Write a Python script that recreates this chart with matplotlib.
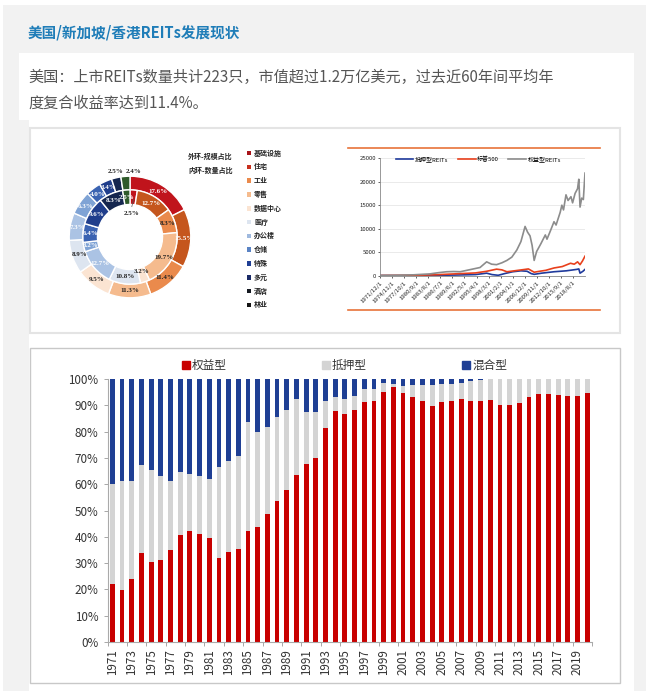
import matplotlib
matplotlib.use("Agg")
import matplotlib.pyplot as plt
from matplotlib.patches import Rectangle
from matplotlib.lines import Line2D
import numpy as np

W, H = 649, 691
CJK = ["Noto Sans CJK SC", "DejaVu Sans"]
plt.rcParams["font.family"] = CJK
plt.rcParams["axes.unicode_minus"] = False

# ---------------- data ----------------
TITLE = "美国/新加坡/香港REITs发展现状"
INTRO = ["美国：上市REITs数量共计223只，市值超过1.2万亿美元，过去近60年间平均年",
         "度复合收益率达到11.4%。"]

# donut: outer = 规模占比, inner = 数量占比
sectors = ["基础设施", "住宅", "工业", "零售", "数据中心", "医疗",
           "办公楼", "仓储", "特殊", "多元", "酒店", "林业"]
outer_pct = [17.6, 15.5, 11.4, 11.3, 9.5, 8.9, 7.3, 6.3, 4.0, 3.4, 2.5, 2.4]
inner_pct = [2.5, 12.7, 8.3, 19.7, 3.2, 10.8, 12.7, 3.2, 6.4, 9.6, 8.3, 2.5]
sector_colors = ["#c0141c", "#c5561d", "#ea8a4c", "#f5bb8e", "#fbe4d2", "#dde5f0",
                 "#abc3e4", "#7fa3d5", "#3b63b2", "#203e8c", "#15264f", "#2f5a2a"]
legend_colors = ["#a8141a", "#c8301e", "#ea8a4c", "#f5bb8e", "#fbe4d2", "#dde5f0",
                 "#9fb9de", "#5a83c4", "#1f3f95", "#1a2a66", "#141820", "#141414"]

# line chart (index levels)
eq_t = [1971.9, 1975.9, 1980.0, 1984.0, 1986.0, 1988.0, 1989.7, 1991.3, 1992.9, 1994.5,
        1996.1, 1997.7, 1998.9, 2000.1, 2001.4, 2002.6, 2003.8, 2005.0, 2006.0, 2007.0,
        2007.6, 2008.2, 2008.7, 2009.2, 2009.8, 2010.8, 2011.9, 2012.3, 2013.1, 2014.0,
        2014.5, 2015.5, 2015.9, 2016.3, 2016.9, 2017.4, 2018.1, 2018.5, 2019.1, 2019.7,
        2020.0, 2020.3, 2020.7, 2021.1, 2021.5]
eq_v = [100, 150, 250, 450, 700, 900, 950, 900, 1200, 1500,
        1800, 3000, 2500, 2400, 2800, 3300, 4000, 5500, 7300, 10500,
        9300, 8500, 6500, 3300, 5200, 6800, 8700, 7800, 9500, 11500,
        10800, 13500, 15000, 14000, 17200, 16000, 16800, 15500, 17500, 18500,
        20500, 14600, 16500, 16200, 21800]
sp_t = [1971.9, 1980.0, 1985.0, 1990.0, 1995.0, 1997.7, 2000.1, 2001.4, 2002.6, 2004.0,
        2007.0, 2007.8, 2009.2, 2010.5, 2012.0, 2014.0, 2016.0, 2018.0, 2018.9, 2019.7,
        2020.3, 2020.9, 2021.5]
sp_v = [100, 150, 250, 450, 650, 1000, 1450, 1300, 900, 1050,
        1400, 1500, 800, 1000, 1200, 1700, 2000, 2700, 2500, 3000,
        2400, 3200, 4200]
mt_t = [1971.9, 1980.0, 1990.0, 1995.0, 1997.7, 1999.0, 2000.5, 2002.0, 2004.0, 2006.0,
        2007.5, 2008.5, 2009.2, 2011.0, 2014.0, 2017.0, 2019.5, 2020.0, 2020.3, 2021.0, 2021.5]
mt_v = [100, 80, 200, 300, 600, 300, 150, 500, 900, 1100,
        1000, 500, 350, 600, 900, 1100, 1400, 1500, 600, 1000, 1400]
line_ticks = ["1971/12/1", "1974/11/1", "1977/10/1", "1980/9/1", "1983/8/1", "1986/7/1",
              "1989/6/1", "1992/5/1", "1995/4/1", "1998/3/1", "2001/2/1", "2004/1/1",
              "2006/12/1", "2009/11/1", "2012/10/1", "2015/9/1", "2018/8/1"]

# stacked bars (share of REITs by type, %)
years = list(range(1971, 2021))
equity = [22.2, 19.7, 23.9, 33.7, 30.4, 31.1, 34.8, 40.5, 42.3, 40.9,
          39.6, 32.1, 34.1, 35.2, 42.3, 43.6, 48.8, 53.7, 57.8, 63.5,
          67.6, 70.1, 81.2, 87.7, 86.8, 88.1, 91.1, 91.7, 95.2, 97.1,
          94.8, 93.3, 91.5, 89.6, 91.1, 91.5, 92.5, 91.7, 91.5, 92.1,
          90.2, 90.2, 90.7, 93.3, 94.4, 94.4, 94.0, 93.6, 93.6, 94.8]
eq_plus_mort = [60.1, 61.1, 61.1, 67.2, 65.3, 63.0, 61.1, 64.5, 63.9, 63.0,
                61.9, 66.7, 68.7, 70.6, 83.7, 79.9, 81.6, 85.4, 88.3, 92.5,
                87.4, 87.4, 91.5, 93.3, 92.5, 93.5, 96.3, 96.3, 98.5, 98.1,
                97.5, 97.8, 97.8, 97.8, 98.1, 98.1, 98.5, 99.4, 99.7, 100,
                100, 100, 100, 100, 100, 100, 100, 100, 100, 100]
mortgage = [a - b for a, b in zip(eq_plus_mort, equity)]
hybrid = [100 - a for a in eq_plus_mort]


def px_axes(fig, x0, y0, x1, y1, **kw):
    return fig.add_axes([x0 / W, 1 - y1 / H, (x1 - x0) / W, (y1 - y0) / H], **kw)


fig = plt.figure(figsize=(W / 100, H / 100), dpi=100, facecolor="white")
bg = px_axes(fig, 0, 0, W, H)
bg.set_xlim(0, W); bg.set_ylim(H, 0); bg.axis("off")
bg.add_patch(Rectangle((3, 5), 643, 686, facecolor="#f2f2f2", edgecolor="none"))
bg.add_patch(Rectangle((19, 53), 615, 638, facecolor="white", edgecolor="none"))
bg.add_patch(Rectangle((3, 120), 26, 571, facecolor="#f2f2f2", edgecolor="none"))
bg.text(28, 32, TITLE, color="#1f7db8", fontsize=10.5, fontweight="bold", va="center")
bg.text(28, 77, INTRO[0], color="#555555", fontsize=10.9, va="center")
bg.text(28, 103, INTRO[1], color="#555555", fontsize=10.9, va="center")
# image panels
bg.add_patch(Rectangle((30, 128), 590, 205, facecolor="white", edgecolor="#e4e4e4", lw=1.5))
bg.add_patch(Rectangle((29.5, 347.5), 590, 335, facecolor="white", edgecolor="#c8c8c8", lw=1))
bg.plot([348, 600], [148, 148], color="#e8733a", lw=1.2)
bg.plot([348, 600], [310, 310], color="#e8733a", lw=1.2)

# ---------------- donut ----------------
R = 71
ax = px_axes(fig, 130 - 76, 237 - 76, 130 + 76, 237 + 76)
ax.set_xlim(-76 / R, 76 / R); ax.set_ylim(-76 / R, 76 / R); ax.axis("off")
wp = dict(edgecolor="white", linewidth=1.0)
ow, _ = ax.pie(outer_pct, radius=1.0, colors=sector_colors, startangle=90,
               counterclock=False, wedgeprops=dict(width=0.225, **wp))
iw, _ = ax.pie(inner_pct, radius=0.775, colors=sector_colors, startangle=90,
               counterclock=False, wedgeprops=dict(width=0.24, **wp))
dark = {0, 1, 6, 7, 8, 9, 10, 11}
lab = dict(fontsize=5, fontweight="bold", family=["Liberation Serif", "DejaVu Serif"],
           ha="center", va="center")
outside = {10: (-0.24, 1.08), 11: (0.06, 1.07)}   # small outer slices: label above ring
for i, w in enumerate(ow):
    ang = np.deg2rad((w.theta1 + w.theta2) / 2)
    if i in outside:
        x, y = outside[i]
        col = "#222222"
    else:
        x, y = 0.885 * np.cos(ang), 0.885 * np.sin(ang)
        col = "white" if i in dark else "#222222"
    ax.text(x, y, f"{outer_pct[i]:.1f}%", color=col, **lab)
for i, w in enumerate(iw):
    ang = np.deg2rad((w.theta1 + w.theta2) / 2)
    r = 0.655
    col = "white" if i in dark else "#222222"
    if i == 0:
        ax.plot([0.06, 0.03], [0.62, 0.5], color="#555555", lw=0.5)
        ax.text(0.03, 0.38, "2.5%", color="#222222", **lab)
        continue
    if i == 4:
        r = 0.6
    ax.text(r * np.cos(ang), r * np.sin(ang), f"{inner_pct[i]:.1f}%", color=col, **lab)

bg.text(188, 156, "外环-规模占比", fontsize=5, fontweight="bold", color="#222222", va="center")
bg.text(188, 170, "内环-数量占比", fontsize=5, fontweight="bold", color="#222222", va="center")
for i, name in enumerate(sectors):
    y = 153 + i * 13.8
    bg.add_patch(Rectangle((246.5, y - 2.3), 4.6, 4.6, facecolor=legend_colors[i], edgecolor="none"))
    bg.text(254, y, name, fontsize=5, fontweight="bold", color="#222222", va="center")

# ---------------- line chart ----------------
lx = px_axes(fig, 380, 158, 585, 276)
lx.plot(mt_t, mt_v, color="#1f3a9c", lw=1.2, label="抵押型REITs")
lx.plot(sp_t, sp_v, color="#e8401c", lw=1.2, label="标普500")
lx.plot(eq_t, eq_v, color="#8c8c8c", lw=1.2, label="权益型REITs")
lx.set_xlim(1971.9, 2021.5)
lx.set_ylim(0, 25000)
lx.set_yticks(range(0, 25001, 5000))
lx.set_xticks([1971.92 + k * 35 / 12 for k in range(len(line_ticks))])
lx.set_xticklabels(line_ticks, rotation=45, ha="right", rotation_mode="anchor")
lx.tick_params(labelsize=4.3, length=1.5, width=0.5, pad=1.5, colors="#222222")
lx.grid(axis="y", color="#e2e2e2", lw=0.5)
lx.set_axisbelow(True)
for s in ("top", "right"):
    lx.spines[s].set_visible(False)
for s in ("left", "bottom"):
    lx.spines[s].set_color("#888888"); lx.spines[s].set_linewidth(0.6)
lx.legend(loc="upper center", bbox_to_anchor=(0.48, 1.06), ncol=3, frameon=False,
          fontsize=4.3, handlelength=3, handletextpad=0.3, columnspacing=1.5)

# ---------------- stacked bars ----------------
bx = px_axes(fig, 107.5, 379, 592, 642)
bx.bar(years, equity, width=0.5, color="#c80000", label="权益型")
bx.bar(years, mortgage, width=0.5, bottom=equity, color="#d4d4d4", label="抵押型")
bx.bar(years, hybrid, width=0.5, bottom=eq_plus_mort, color="#1f3f94", label="混合型")
bx.set_xlim(1970.5, 2020.5)
bx.set_ylim(0, 100)
bx.set_yticks(range(0, 101, 10))
bx.set_yticklabels([f"{v}%" for v in range(0, 101, 10)])
bx.set_xticks(years[::2])
bx.set_xticklabels([str(y) for y in years[::2]], rotation=90)
bx.set_xticks(np.arange(1970.5, 2021, 2), minor=True)
bx.tick_params(axis="x", which="major", length=0, pad=5)
bx.tick_params(axis="x", which="minor", length=3, width=0.6, color="#999999")
bx.tick_params(axis="y", length=3, width=0.6, color="#999999", pad=3.5)
bx.tick_params(labelsize=8.4, labelcolor="#333333")
for s in ("top", "right"):
    bx.spines[s].set_visible(False)
for s in ("left", "bottom"):
    bx.spines[s].set_color("#aaaaaa"); bx.spines[s].set_linewidth(0.8)
handles = [Line2D([], [], marker="s", ls="none", markersize=6, color=c)
           for c in ("#c80000", "#d4d4d4", "#1f3f94")]
bx.legend(handles, ["权益型", "抵押型", "混合型"], loc="lower center",
          bbox_to_anchor=(0.49, 1.0), ncol=3, frameon=False, fontsize=8.4,
          handlelength=0.6, handletextpad=0.2, columnspacing=8.2,
          labelcolor="#333333", borderaxespad=0.2)

fig.savefig("out.png", dpi=100, facecolor=fig.get_facecolor())
